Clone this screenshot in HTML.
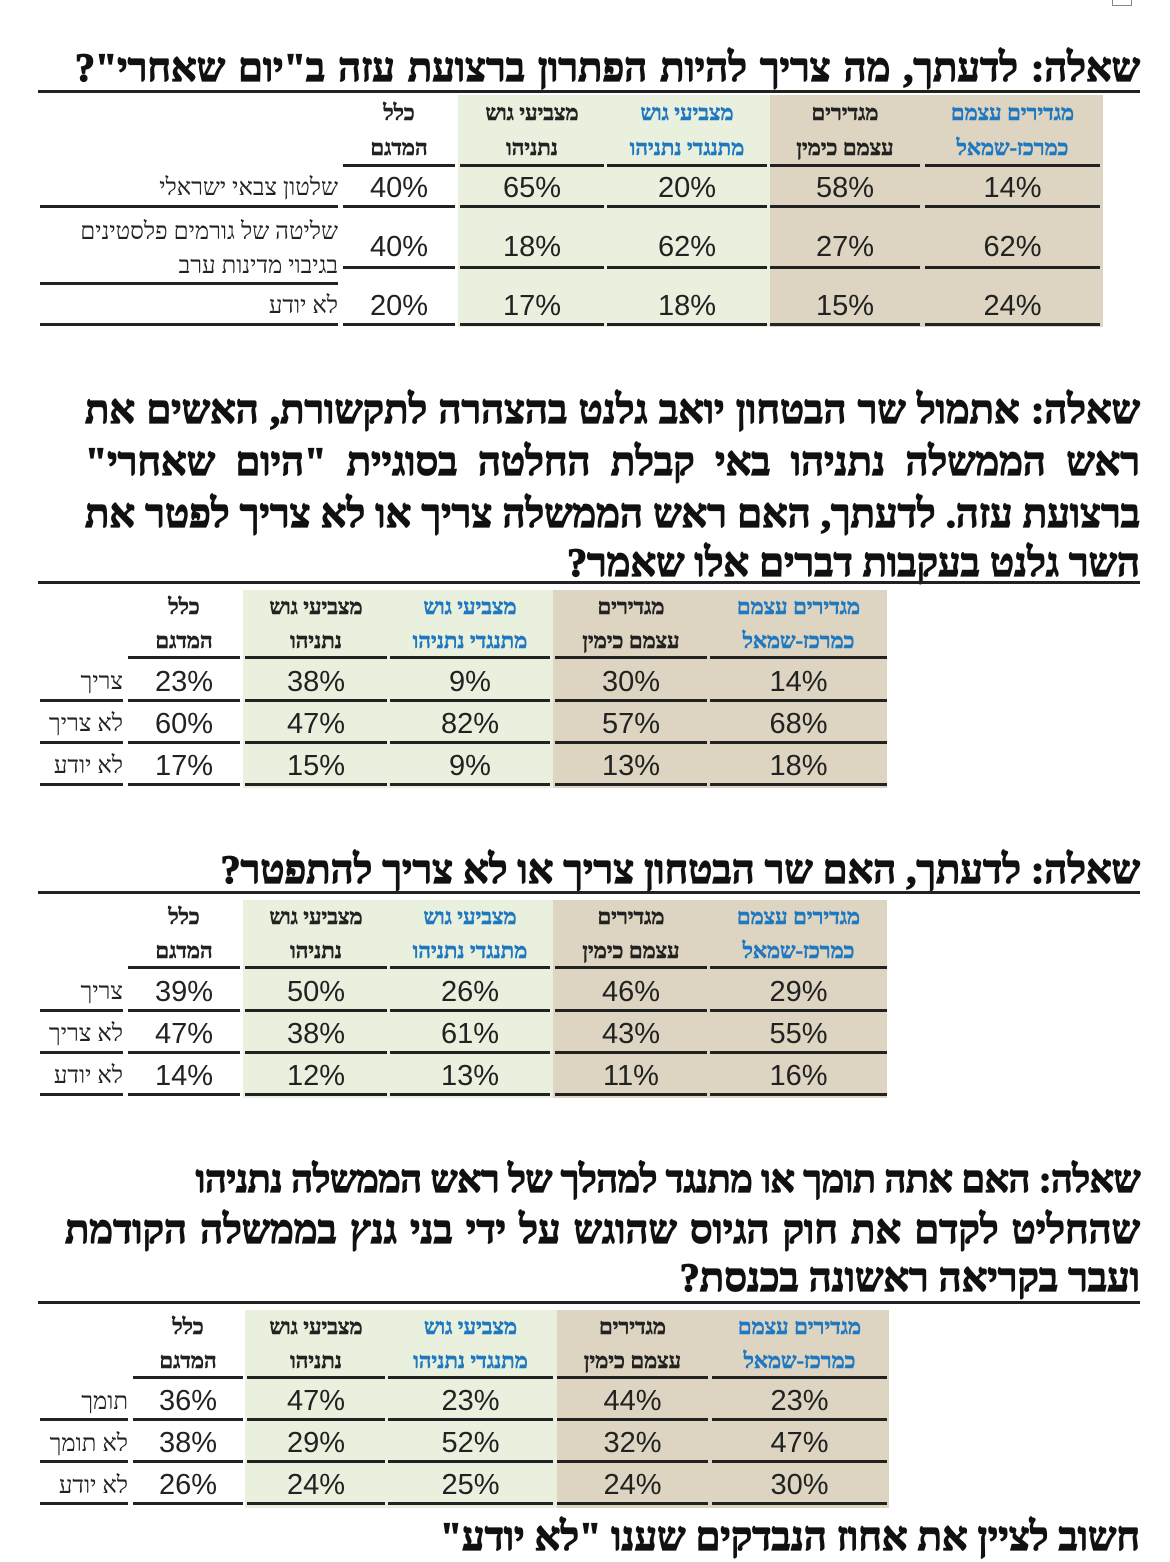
<!DOCTYPE html>
<html><head><meta charset="utf-8">
<style>
body{margin:0;width:1170px;height:1537px;background:#fff;position:relative;overflow:hidden;font-family:"Liberation Serif",serif;color:#111}
.a{position:absolute}
.bg1{background:#e9f0de}.bg2{background:#ddd5c1}
.ln{position:absolute;height:3px;background:#222}
.v{position:absolute;height:32px;line-height:32px;text-align:center;font-family:"Liberation Sans Narrow","Liberation Sans",sans-serif;font-size:29px;color:#222;white-space:nowrap}
.h{position:absolute;height:30px;line-height:30px;text-align:center;font-size:22px;font-weight:bold;-webkit-text-stroke:0.6px currentColor;color:#222;white-space:nowrap;direction:rtl}
.b{color:#1f78c0}
.l{position:absolute;height:30px;line-height:30px;text-align:right;font-size:24px;color:#222;white-space:nowrap;direction:rtl}
.ti{position:absolute;right:30px;direction:rtl;font-weight:bold;font-size:40px;-webkit-text-stroke:1.3px #111;height:50px;line-height:50px;white-space:nowrap;color:#111}
.j{text-align:justify;text-align-last:justify;white-space:normal}
</style></head><body>
<div class="a" style="left:1112px;top:-6px;width:18px;height:10px;border:1px solid #888"></div>

<div class="ti j" style="top:43px;width:1065px">שאלה: לדעתך, מה צריך להיות הפתרון ברצועת עזה ב"יום שאחרי"?</div>

<div class="a bg1" style="left:458px;top:95px;width:312px;height:232px"></div>
<div class="a bg2" style="left:770px;top:95px;width:333px;height:232px"></div>
<div class="ln" style="left:38px;top:90px;width:1102px"></div>
<div class="h" style="left:343px;top:98px;width:112px">כלל</div>
<div class="h" style="left:343px;top:133px;width:112px">המדגם</div>
<div class="h" style="left:460px;top:98px;width:144px">מצביעי גוש</div>
<div class="h" style="left:460px;top:133px;width:144px">נתניהו</div>
<div class="h b" style="left:607px;top:98px;width:160px">מצביעי גוש</div>
<div class="h b" style="left:607px;top:133px;width:160px">מתנגדי נתניהו</div>
<div class="h" style="left:770px;top:98px;width:150px">מגדירים</div>
<div class="h" style="left:770px;top:133px;width:150px">עצמם כימין</div>
<div class="h b" style="left:925px;top:98px;width:175px">מגדירים עצמם</div>
<div class="h b" style="left:925px;top:133px;width:175px">כמרכז-שמאל</div>
<div class="ln" style="left:343px;top:164px;width:112px"></div><div class="ln" style="left:460px;top:164px;width:144px"></div><div class="ln" style="left:607px;top:164px;width:160px"></div><div class="ln" style="left:770px;top:164px;width:150px"></div><div class="ln" style="left:925px;top:164px;width:175px"></div>
<div class="l" style="left:40px;top:173px;width:298px">שלטון צבאי ישראלי</div>
<div class="v" style="left:343px;top:172px;width:112px">40%</div><div class="v" style="left:460px;top:172px;width:144px">65%</div><div class="v" style="left:607px;top:172px;width:160px">20%</div><div class="v" style="left:770px;top:172px;width:150px">58%</div><div class="v" style="left:925px;top:172px;width:175px">14%</div>
<div class="ln" style="left:40px;top:205px;width:298px"></div><div class="ln" style="left:343px;top:205px;width:112px"></div><div class="ln" style="left:460px;top:205px;width:144px"></div><div class="ln" style="left:607px;top:205px;width:160px"></div><div class="ln" style="left:770px;top:205px;width:150px"></div><div class="ln" style="left:925px;top:205px;width:175px"></div>
<div class="l" style="left:40px;top:217px;width:298px">שליטה של גורמים פלסטינים</div>
<div class="l" style="left:40px;top:251px;width:298px">בגיבוי מדינות ערב</div>
<div class="v" style="left:343px;top:231px;width:112px">40%</div><div class="v" style="left:460px;top:231px;width:144px">18%</div><div class="v" style="left:607px;top:231px;width:160px">62%</div><div class="v" style="left:770px;top:231px;width:150px">27%</div><div class="v" style="left:925px;top:231px;width:175px">62%</div>
<div class="ln" style="left:343px;top:266px;width:112px"></div><div class="ln" style="left:460px;top:266px;width:144px"></div><div class="ln" style="left:607px;top:266px;width:160px"></div><div class="ln" style="left:770px;top:266px;width:150px"></div><div class="ln" style="left:925px;top:266px;width:175px"></div>
<div class="ln" style="left:40px;top:282px;width:298px"></div>
<div class="l" style="left:40px;top:291px;width:298px">לא יודע</div>
<div class="v" style="left:343px;top:290px;width:112px">20%</div><div class="v" style="left:460px;top:290px;width:144px">17%</div><div class="v" style="left:607px;top:290px;width:160px">18%</div><div class="v" style="left:770px;top:290px;width:150px">15%</div><div class="v" style="left:925px;top:290px;width:175px">24%</div>
<div class="ln" style="left:40px;top:323px;width:298px"></div><div class="ln" style="left:343px;top:323px;width:112px"></div><div class="ln" style="left:460px;top:323px;width:144px"></div><div class="ln" style="left:607px;top:323px;width:160px"></div><div class="ln" style="left:770px;top:323px;width:150px"></div><div class="ln" style="left:925px;top:323px;width:175px"></div>

<div class="ti j" style="top:385px;width:1055px">שאלה: אתמול שר הבטחון יואב גלנט בהצהרה לתקשורת, האשים את</div>
<div class="ti j" style="top:437px;width:1055px">ראש הממשלה נתניהו באי קבלת החלטה בסוגיית "היום שאחרי"</div>
<div class="ti j" style="top:489px;width:1055px">ברצועת עזה. לדעתך, האם ראש הממשלה צריך או לא צריך לפטר את</div>
<div class="ti" style="top:538px">השר גלנט בעקבות דברים אלו שאמר?</div>

<div class="a bg1" style="left:243px;top:590px;width:310px;height:198px"></div>
<div class="a bg2" style="left:553px;top:590px;width:334px;height:198px"></div>
<div class="ln" style="left:38px;top:581px;width:1102px"></div>
<div class="h" style="left:128px;top:592px;width:112px">כלל</div><div class="h" style="left:128px;top:626px;width:112px">המדגם</div>
<div class="h" style="left:245px;top:592px;width:142px">מצביעי גוש</div><div class="h" style="left:245px;top:626px;width:142px">נתניהו</div>
<div class="h b" style="left:390px;top:592px;width:160px">מצביעי גוש</div><div class="h b" style="left:390px;top:626px;width:160px">מתנגדי נתניהו</div>
<div class="h" style="left:555px;top:592px;width:152px">מגדירים</div><div class="h" style="left:555px;top:626px;width:152px">עצמם כימין</div>
<div class="h b" style="left:710px;top:592px;width:177px">מגדירים עצמם</div><div class="h b" style="left:710px;top:626px;width:177px">כמרכז-שמאל</div>
<div class="ln" style="left:128px;top:656px;width:112px"></div><div class="ln" style="left:245px;top:656px;width:142px"></div><div class="ln" style="left:390px;top:656px;width:160px"></div><div class="ln" style="left:555px;top:656px;width:152px"></div><div class="ln" style="left:710px;top:656px;width:177px"></div>
<div class="l" style="left:40px;top:667px;width:83px">צריך</div>
<div class="v" style="left:128px;top:666px;width:112px">23%</div><div class="v" style="left:245px;top:666px;width:142px">38%</div><div class="v" style="left:390px;top:666px;width:160px">9%</div><div class="v" style="left:555px;top:666px;width:152px">30%</div><div class="v" style="left:710px;top:666px;width:177px">14%</div>
<div class="ln" style="left:40px;top:699px;width:83px"></div><div class="ln" style="left:128px;top:699px;width:112px"></div><div class="ln" style="left:245px;top:699px;width:142px"></div><div class="ln" style="left:390px;top:699px;width:160px"></div><div class="ln" style="left:555px;top:699px;width:152px"></div><div class="ln" style="left:710px;top:699px;width:177px"></div>
<div class="l" style="left:40px;top:709px;width:83px">לא צריך</div>
<div class="v" style="left:128px;top:708px;width:112px">60%</div><div class="v" style="left:245px;top:708px;width:142px">47%</div><div class="v" style="left:390px;top:708px;width:160px">82%</div><div class="v" style="left:555px;top:708px;width:152px">57%</div><div class="v" style="left:710px;top:708px;width:177px">68%</div>
<div class="ln" style="left:40px;top:741px;width:83px"></div><div class="ln" style="left:128px;top:741px;width:112px"></div><div class="ln" style="left:245px;top:741px;width:142px"></div><div class="ln" style="left:390px;top:741px;width:160px"></div><div class="ln" style="left:555px;top:741px;width:152px"></div><div class="ln" style="left:710px;top:741px;width:177px"></div>
<div class="l" style="left:40px;top:751px;width:83px">לא יודע</div>
<div class="v" style="left:128px;top:750px;width:112px">17%</div><div class="v" style="left:245px;top:750px;width:142px">15%</div><div class="v" style="left:390px;top:750px;width:160px">9%</div><div class="v" style="left:555px;top:750px;width:152px">13%</div><div class="v" style="left:710px;top:750px;width:177px">18%</div>
<div class="ln" style="left:40px;top:783px;width:83px"></div><div class="ln" style="left:128px;top:783px;width:112px"></div><div class="ln" style="left:245px;top:783px;width:142px"></div><div class="ln" style="left:390px;top:783px;width:160px"></div><div class="ln" style="left:555px;top:783px;width:152px"></div><div class="ln" style="left:710px;top:783px;width:177px"></div>

<div class="ti" style="top:845px">שאלה: לדעתך, האם שר הבטחון צריך או לא צריך להתפטר?</div>

<div class="a bg1" style="left:243px;top:900px;width:310px;height:198px"></div>
<div class="a bg2" style="left:553px;top:900px;width:334px;height:198px"></div>
<div class="ln" style="left:38px;top:891px;width:1102px"></div>
<div class="h" style="left:128px;top:902px;width:112px">כלל</div><div class="h" style="left:128px;top:936px;width:112px">המדגם</div>
<div class="h" style="left:245px;top:902px;width:142px">מצביעי גוש</div><div class="h" style="left:245px;top:936px;width:142px">נתניהו</div>
<div class="h b" style="left:390px;top:902px;width:160px">מצביעי גוש</div><div class="h b" style="left:390px;top:936px;width:160px">מתנגדי נתניהו</div>
<div class="h" style="left:555px;top:902px;width:152px">מגדירים</div><div class="h" style="left:555px;top:936px;width:152px">עצמם כימין</div>
<div class="h b" style="left:710px;top:902px;width:177px">מגדירים עצמם</div><div class="h b" style="left:710px;top:936px;width:177px">כמרכז-שמאל</div>
<div class="ln" style="left:128px;top:966px;width:112px"></div><div class="ln" style="left:245px;top:966px;width:142px"></div><div class="ln" style="left:390px;top:966px;width:160px"></div><div class="ln" style="left:555px;top:966px;width:152px"></div><div class="ln" style="left:710px;top:966px;width:177px"></div>
<div class="l" style="left:40px;top:977px;width:83px">צריך</div>
<div class="v" style="left:128px;top:976px;width:112px">39%</div><div class="v" style="left:245px;top:976px;width:142px">50%</div><div class="v" style="left:390px;top:976px;width:160px">26%</div><div class="v" style="left:555px;top:976px;width:152px">46%</div><div class="v" style="left:710px;top:976px;width:177px">29%</div>
<div class="ln" style="left:40px;top:1009px;width:83px"></div><div class="ln" style="left:128px;top:1009px;width:112px"></div><div class="ln" style="left:245px;top:1009px;width:142px"></div><div class="ln" style="left:390px;top:1009px;width:160px"></div><div class="ln" style="left:555px;top:1009px;width:152px"></div><div class="ln" style="left:710px;top:1009px;width:177px"></div>
<div class="l" style="left:40px;top:1019px;width:83px">לא צריך</div>
<div class="v" style="left:128px;top:1018px;width:112px">47%</div><div class="v" style="left:245px;top:1018px;width:142px">38%</div><div class="v" style="left:390px;top:1018px;width:160px">61%</div><div class="v" style="left:555px;top:1018px;width:152px">43%</div><div class="v" style="left:710px;top:1018px;width:177px">55%</div>
<div class="ln" style="left:40px;top:1051px;width:83px"></div><div class="ln" style="left:128px;top:1051px;width:112px"></div><div class="ln" style="left:245px;top:1051px;width:142px"></div><div class="ln" style="left:390px;top:1051px;width:160px"></div><div class="ln" style="left:555px;top:1051px;width:152px"></div><div class="ln" style="left:710px;top:1051px;width:177px"></div>
<div class="l" style="left:40px;top:1061px;width:83px">לא יודע</div>
<div class="v" style="left:128px;top:1060px;width:112px">14%</div><div class="v" style="left:245px;top:1060px;width:142px">12%</div><div class="v" style="left:390px;top:1060px;width:160px">13%</div><div class="v" style="left:555px;top:1060px;width:152px">11%</div><div class="v" style="left:710px;top:1060px;width:177px">16%</div>
<div class="ln" style="left:40px;top:1093px;width:83px"></div><div class="ln" style="left:128px;top:1093px;width:112px"></div><div class="ln" style="left:245px;top:1093px;width:142px"></div><div class="ln" style="left:390px;top:1093px;width:160px"></div><div class="ln" style="left:555px;top:1093px;width:152px"></div><div class="ln" style="left:710px;top:1093px;width:177px"></div>

<div class="ti" style="top:1155px;font-size:38px;letter-spacing:-0.5px">שאלה: האם אתה תומך או מתנגד למהלך של ראש הממשלה נתניהו</div>
<div class="ti j" style="top:1205px;width:1075px">שהחליט לקדם את חוק הגיוס שהוגש על ידי בני גנץ בממשלה הקודמת</div>
<div class="ti" style="top:1253px">ועבר בקריאה ראשונה בכנסת?</div>

<div class="a bg1" style="left:245px;top:1310px;width:312px;height:198px"></div>
<div class="a bg2" style="left:557px;top:1310px;width:332px;height:198px"></div>
<div class="ln" style="left:38px;top:1301px;width:1102px"></div>
<div class="h" style="left:133px;top:1312px;width:110px">כלל</div><div class="h" style="left:133px;top:1346px;width:110px">המדגם</div>
<div class="h" style="left:247px;top:1312px;width:138px">מצביעי גוש</div><div class="h" style="left:247px;top:1346px;width:138px">נתניהו</div>
<div class="h b" style="left:388px;top:1312px;width:165px">מצביעי גוש</div><div class="h b" style="left:388px;top:1346px;width:165px">מתנגדי נתניהו</div>
<div class="h" style="left:557px;top:1312px;width:151px">מגדירים</div><div class="h" style="left:557px;top:1346px;width:151px">עצמם כימין</div>
<div class="h b" style="left:712px;top:1312px;width:175px">מגדירים עצמם</div><div class="h b" style="left:712px;top:1346px;width:175px">כמרכז-שמאל</div>
<div class="ln" style="left:133px;top:1376px;width:110px"></div><div class="ln" style="left:247px;top:1376px;width:138px"></div><div class="ln" style="left:388px;top:1376px;width:165px"></div><div class="ln" style="left:557px;top:1376px;width:151px"></div><div class="ln" style="left:712px;top:1376px;width:175px"></div>
<div class="l" style="left:40px;top:1387px;width:88px">תומך</div>
<div class="v" style="left:133px;top:1385px;width:110px">36%</div><div class="v" style="left:247px;top:1385px;width:138px">47%</div><div class="v" style="left:388px;top:1385px;width:165px">23%</div><div class="v" style="left:557px;top:1385px;width:151px">44%</div><div class="v" style="left:712px;top:1385px;width:175px">23%</div>
<div class="ln" style="left:40px;top:1418px;width:88px"></div><div class="ln" style="left:133px;top:1418px;width:110px"></div><div class="ln" style="left:247px;top:1418px;width:138px"></div><div class="ln" style="left:388px;top:1418px;width:165px"></div><div class="ln" style="left:557px;top:1418px;width:151px"></div><div class="ln" style="left:712px;top:1418px;width:175px"></div>
<div class="l" style="left:40px;top:1429px;width:88px">לא תומך</div>
<div class="v" style="left:133px;top:1427px;width:110px">38%</div><div class="v" style="left:247px;top:1427px;width:138px">29%</div><div class="v" style="left:388px;top:1427px;width:165px">52%</div><div class="v" style="left:557px;top:1427px;width:151px">32%</div><div class="v" style="left:712px;top:1427px;width:175px">47%</div>
<div class="ln" style="left:40px;top:1460px;width:88px"></div><div class="ln" style="left:133px;top:1460px;width:110px"></div><div class="ln" style="left:247px;top:1460px;width:138px"></div><div class="ln" style="left:388px;top:1460px;width:165px"></div><div class="ln" style="left:557px;top:1460px;width:151px"></div><div class="ln" style="left:712px;top:1460px;width:175px"></div>
<div class="l" style="left:40px;top:1471px;width:88px">לא יודע</div>
<div class="v" style="left:133px;top:1469px;width:110px">26%</div><div class="v" style="left:247px;top:1469px;width:138px">24%</div><div class="v" style="left:388px;top:1469px;width:165px">25%</div><div class="v" style="left:557px;top:1469px;width:151px">24%</div><div class="v" style="left:712px;top:1469px;width:175px">30%</div>
<div class="ln" style="left:40px;top:1502px;width:88px"></div><div class="ln" style="left:133px;top:1502px;width:110px"></div><div class="ln" style="left:247px;top:1502px;width:138px"></div><div class="ln" style="left:388px;top:1502px;width:165px"></div><div class="ln" style="left:557px;top:1502px;width:151px"></div><div class="ln" style="left:712px;top:1502px;width:175px"></div>

<div class="ti" style="top:1512px;right:30px">חשוב לציין את אחוז הנבדקים שענו "לא יודע"</div>
</body></html>
